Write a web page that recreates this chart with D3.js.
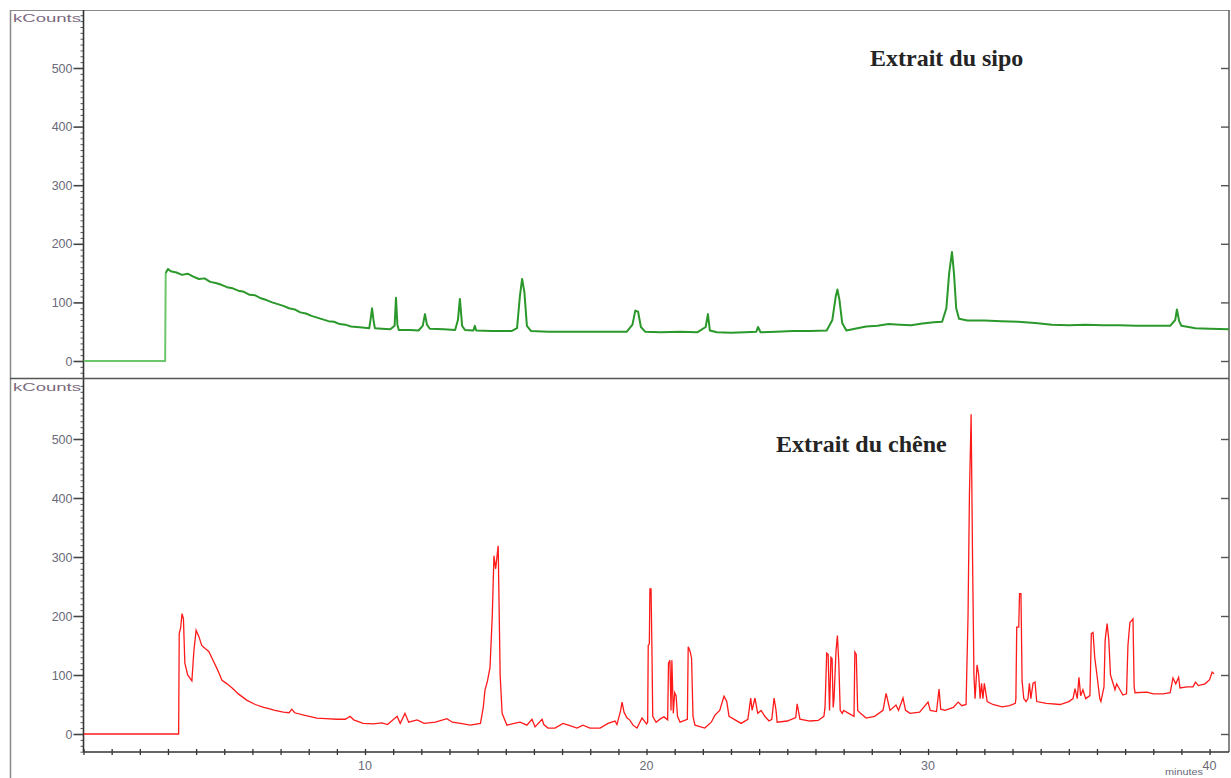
<!DOCTYPE html>
<html><head><meta charset="utf-8">
<script src="https://cdn.jsdelivr.net/npm/d3@7"></script>
<style>html,body{margin:0;padding:0;background:#fff;}svg{display:block;}</style>
</head><body><svg id="c" width="1231" height="778"></svg>
<script>
// ---- data (time in minutes, intensity in kCounts) ----
const titleTop = "Extrait du sipo";
const titleBottom = "Extrait du chêne";
const yTickValues = [0, 100, 200, 300, 400, 500];
const xTickLabels = [10, 20, 30, 40];
const sipoTime = [0,2.9,2.92,3.0,3.1,3.3,3.5,3.7,3.9,4.1,4.3,4.5,4.7,4.9,5.1,5.3,5.5,5.7,5.9,6.1,6.3,6.5,6.7,6.9,7.1,7.3,7.5,7.7,7.9,8.1,8.3,8.5,8.7,8.9,9.1,9.3,9.5,9.7,9.9,10.15,10.2,10.25,10.3,10.35,10.6,10.9,11.05,11.1,11.15,11.2,11.6,11.9,12.05,12.13,12.2,12.3,12.8,13.2,13.3,13.37,13.45,13.55,13.85,13.9,13.95,14.5,15.2,15.4,15.5,15.58,15.66,15.75,15.9,16.5,17.5,18.5,19.3,19.5,19.6,19.7,19.8,19.95,20.5,21.2,21.8,22.1,22.18,22.25,22.5,23,23.5,23.9,23.96,24.05,24.6,25.2,25.8,26.4,26.6,26.72,26.78,26.85,26.95,27.1,27.4,27.8,28.2,28.6,29.0,29.4,29.8,30.2,30.5,30.65,30.75,30.85,30.92,31.0,31.1,31.4,32,32.6,33.2,33.8,34.4,35.0,35.6,36.2,36.8,37.4,38.0,38.6,38.78,38.84,38.92,39.0,39.5,40.0,40.7];
const sipoValue = [0,0,150,157,153,151,147,149,144,140,141,135,133,130,126,124,120,118,113,112,107,104,100,97,94,90,88,83,81,77,74,71,68,67,63,62,59,58,57,56,72,90,70,56,55,54,60,108,62,53,53,52,60,80,62,55,54,53,70,106,60,53,52,60,52,51,51,56,110,140,118,60,51,50,50,50,50,62,86,84,58,50,49,50,49,58,80,52,49,48,49,50,58,49,50,51,51,52,70,110,122,105,65,52,55,59,60,63,62,61,64,66,67,90,150,186,150,90,72,69,69,68,67,65,62,61,62,61,61,60,60,60,70,88,68,60,56,55,54];
const cheneTime = [0,3.38,3.4,3.45,3.5,3.55,3.6,3.7,3.85,3.92,4.0,4.1,4.2,4.32,4.45,4.6,4.75,4.92,5.1,5.28,5.5,5.81,6.1,6.4,6.52,6.8,7.1,7.3,7.4,7.5,7.9,8.29,8.6,9.0,9.3,9.47,9.6,9.93,10.3,10.6,10.8,11.14,11.25,11.42,11.55,11.85,12.1,12.5,12.91,13.1,13.5,13.73,14.1,14.2,14.26,14.35,14.44,14.52,14.58,14.64,14.73,14.8,14.87,15.04,15.3,15.51,15.75,15.93,16.04,16.29,16.35,16.5,16.75,17.03,17.28,17.53,17.74,17.99,18.35,18.63,18.88,18.95,19.08,19.13,19.2,19.31,19.4,19.52,19.66,19.84,20.0,20.04,20.06,20.1,20.12,20.16,20.19,20.22,20.34,20.5,20.62,20.75,20.78,20.83,20.87,20.9,20.95,21.0,21.05,21.1,21.19,21.45,21.48,21.55,21.6,21.65,21.72,22.07,22.3,22.43,22.6,22.75,22.85,22.93,23.36,23.6,23.7,23.75,23.85,23.95,24.07,24.2,24.35,24.45,24.53,24.6,24.64,25.0,25.3,25.35,25.45,25.8,26.1,26.3,26.34,26.4,26.45,26.5,26.55,26.59,26.63,26.66,26.73,26.78,26.83,26.88,26.95,27.0,27.37,27.4,27.45,27.5,27.6,27.8,28.1,28.4,28.51,28.6,28.65,28.86,28.95,29.11,29.2,29.36,29.7,30.0,30.08,30.3,30.39,30.45,30.6,30.9,31.07,31.2,31.35,31.42,31.47,31.53,31.58,31.63,31.67,31.74,31.8,31.85,31.9,31.95,32.0,32.1,32.3,32.63,32.9,33.1,33.12,33.15,33.22,33.25,33.3,33.34,33.4,33.48,33.55,33.6,33.65,33.73,33.8,33.86,34.2,34.69,35.0,35.15,35.22,35.3,35.36,35.42,35.5,35.6,35.75,35.8,35.86,35.92,36.0,36.1,36.14,36.25,36.29,36.36,36.42,36.48,36.57,36.64,36.7,36.78,36.92,37.05,37.1,37.17,37.28,37.32,37.35,37.78,38.0,38.35,38.6,38.7,38.8,38.9,38.95,39.2,39.41,39.5,39.6,39.84,40.0,40.09,40.16];
const cheneValue = [0,0,170,180,204,195,120,100,90,140,176,165,150,145,140,125,110,91,85,78,68,57,50,45,44,40,37,36,42,36,31,27,26,25,25,30,24,18,17,19,16,30,18,35,20,24,18,20,26,20,17,15,18,45,74,90,113,200,302,280,319,100,35,15,18,20,15,25,12,25,16,10,10,18,14,10,15,10,10,18,22,16,40,54,37,27,24,15,10,27,17,20,150,153,246,246,150,30,20,26,29,24,120,125,40,125,35,70,65,30,20,25,148,140,128,30,15,10,20,32,40,64,55,30,18,25,61,40,61,35,40,30,22,25,61,40,20,22,28,51,25,22,23,30,45,137,135,40,130,128,45,60,140,167,120,40,35,40,30,139,135,40,35,27,30,40,69,50,40,49,40,61,40,35,37,54,40,38,76,42,40,45,54,48,50,200,407,542,300,100,60,117,100,60,86,60,86,55,50,46,48,52,60,181,181,238,238,90,60,55,60,86,60,86,88,55,52,50,55,60,77,60,96,65,75,60,65,170,172,130,100,60,55,80,159,187,160,100,86,75,85,78,66,68,150,189,195,80,70,71,68,68,70,95,85,96,78,80,80,88,82,85,92,105,102];

// ---- layout ----
const svg = d3.select("#c");
const X0 = 83.5, X1 = 1229;
const x = d3.scaleLinear().domain([0, 40.69]).range([X0, X1]);
const panels = [
  {top: 10, bottom: 378, y: d3.scaleLinear().domain([0, 500]).range([361, 68]),
   time: sipoTime, value: sipoValue, color: "#2b982b", title: titleTop, tx: 870, ty: 66},
  {top: 379, bottom: 752, y: d3.scaleLinear().domain([0, 500]).range([734, 439]),
   time: cheneTime, value: cheneValue, color: "#ff1a1a", title: titleBottom, tx: 776, ty: 452}
];

// frame
const frame = "#8a8a8a";
svg.append("line").attr("x1",10).attr("x2",1229).attr("y1",10.5).attr("y2",10.5).attr("stroke",frame).attr("stroke-width",1.2);
svg.append("line").attr("x1",10.5).attr("x2",10.5).attr("y1",10).attr("y2",778).attr("stroke",frame).attr("stroke-width",1.5);
svg.append("line").attr("x1",1229).attr("x2",1229).attr("y1",10).attr("y2",752).attr("stroke","#555").attr("stroke-width",1.4);
svg.append("line").attr("x1",10).attr("x2",1229).attr("y1",378.5).attr("y2",378.5).attr("stroke","#555").attr("stroke-width",1.6);

panels.forEach((p, i) => {
  const g = svg.append("g");
  const yMin = p.y.invert(p.bottom), yMax = p.y.invert(p.top);
  const major = d3.axisLeft(p.y).tickValues(yTickValues).tickSize(10).tickPadding(1).tickFormat(d3.format("d"));
  const ga = g.append("g").attr("transform", `translate(${X0},0)`).call(major);
  ga.select(".domain").remove();
  ga.selectAll(".tick line").attr("stroke","#444").attr("stroke-width",1.6);
  ga.selectAll(".tick text").attr("fill","#6a6a78").style("font-family","Liberation Sans, Arial, sans-serif").style("font-size","12.5px");
  const minorVals = d3.range(Math.ceil(yMin/10)*10, yMax, 10).filter(v => v % 100 !== 0);
  const minor = d3.axisLeft(p.y).tickValues(minorVals).tickSize(3).tickFormat("");
  const gm = g.append("g").attr("transform", `translate(${X0},0)`).call(minor);
  gm.select(".domain").remove();
  gm.selectAll(".tick line").attr("stroke","#555").attr("stroke-width",1);
  g.append("line").attr("x1",X0).attr("x2",X0).attr("y1",p.top).attr("y2",p.bottom).attr("stroke","#333").attr("stroke-width",1.6);
  const right = d3.axisLeft(p.y).tickValues(yTickValues).tickSize(8).tickFormat("");
  const gr = g.append("g").attr("transform", `translate(${X1},0)`).call(right);
  gr.select(".domain").remove();
  gr.selectAll(".tick line").attr("stroke","#555").attr("stroke-width",1.4).attr("x2",-8);
  g.append("text").attr("x",13).attr("y",p.top+12).attr("textLength",68).attr("lengthAdjust","spacingAndGlyphs")
    .style("font-family","Liberation Sans, Arial, sans-serif").style("font-size","11px").attr("fill","#7a6a80").text("kCounts");
  svg.append("clipPath").attr("id","clip"+i).append("rect").attr("x",X0).attr("y",p.top).attr("width",X1-X0).attr("height",p.bottom-p.top);
  const pts = p.time.map((t, k) => [t, p.value[k]]);
  const line = d3.line().x(d => x(d[0])).y(d => p.y(d[1]));
  if (i === 0) {
    const lead = pts.filter(d => d[0] <= 2.92);
    const rest = pts.filter(d => d[0] >= 2.92);
    g.append("path").attr("clip-path",`url(#clip${i})`).attr("d", line(lead)).attr("fill","none").attr("stroke","#6cc66c").attr("stroke-width",2);
    g.append("path").attr("clip-path",`url(#clip${i})`).attr("d", line(rest)).attr("fill","none").attr("stroke",p.color).attr("stroke-width",2).attr("stroke-linejoin","round");
  } else {
    g.append("path").attr("clip-path",`url(#clip${i})`).attr("d", line(pts)).attr("fill","none").attr("stroke",p.color).attr("stroke-width",1.3).attr("stroke-linejoin","miter");
  }
  g.append("text").attr("x",p.tx).attr("y",p.ty).style("font-family","Liberation Serif, Times New Roman, serif")
    .style("font-weight","bold").style("font-size","24px").attr("fill","#242424").text(p.title);
});

// bottom x axis
const xAxisY = 752;
const xa = d3.axisBottom(x).tickValues(d3.range(0, 41, 1)).tickSize(3).tickFormat("");
const gx = svg.append("g").attr("transform", `translate(0,${xAxisY})`).call(xa);
gx.select(".domain").remove();
gx.selectAll(".tick line").attr("y1",-3).attr("y2",3).attr("stroke","#333").attr("stroke-width",1.3);
svg.append("line").attr("x1",X0).attr("x2",X1).attr("y1",xAxisY).attr("y2",xAxisY).attr("stroke","#333").attr("stroke-width",1.6);
svg.selectAll(".xlab").data(xTickLabels).enter().append("text").attr("class","xlab")
  .attr("x", d => x(d)).attr("y", 770).attr("text-anchor","middle")
  .style("font-family","Liberation Sans, Arial, sans-serif").style("font-size","12.5px").attr("fill","#6a6a78").text(d => d);
svg.append("text").attr("x",1165).attr("y",775).attr("textLength",38).attr("lengthAdjust","spacingAndGlyphs")
  .style("font-family","Liberation Sans, Arial, sans-serif").style("font-size","9px").attr("fill","#6a6a78").text("minutes");
</script></body></html>
